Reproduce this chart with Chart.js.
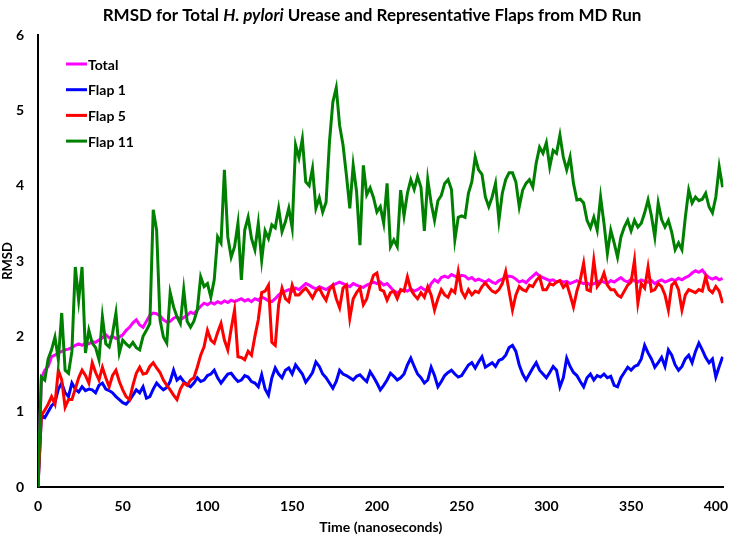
<!DOCTYPE html>
<html>
<head>
<meta charset="utf-8">
<script src="https://cdn.jsdelivr.net/npm/chart.js"></script>
<style>
  html, body { margin: 0; padding: 0; background: #fff; }
  #wrap { width: 739px; height: 536px; }
</style>
</head>
<body>
<div id="wrap"><canvas id="rmsdChart"></canvas></div>
<script>
const times = Array.from({ length: 203 }, (_, i) => i * 2);

const total = [
  0, 1.45, 1.55, 1.6, 1.73, 1.75, 1.78, 1.8, 1.82, 1.83,
  1.85, 1.88, 1.9, 1.88, 1.91, 1.9, 1.93, 1.92, 1.95, 1.98,
  2.02, 1.98, 2.0, 1.97, 1.99, 2.02, 2.08, 2.12, 2.18, 2.22,
  2.15, 2.12, 2.2, 2.28, 2.31, 2.3, 2.27, 2.22, 2.19, 2.2,
  2.24, 2.26, 2.22, 2.25, 2.28, 2.32, 2.3, 2.35, 2.4, 2.44,
  2.42, 2.45, 2.43, 2.46, 2.44, 2.47, 2.45, 2.48, 2.46, 2.48,
  2.5, 2.47, 2.49, 2.46, 2.5, 2.48, 2.52, 2.5, 2.47, 2.46,
  2.5, 2.55, 2.58, 2.6, 2.62, 2.6, 2.64, 2.62, 2.66, 2.7,
  2.68, 2.65, 2.63, 2.66, 2.64, 2.62, 2.65, 2.68, 2.7, 2.72,
  2.7, 2.68, 2.66, 2.7, 2.68, 2.66, 2.65, 2.68, 2.7, 2.72,
  2.7, 2.72, 2.68, 2.7, 2.65, 2.6, 2.58, 2.6, 2.62, 2.6,
  2.63, 2.6, 2.62, 2.65, 2.62, 2.6, 2.7, 2.75, 2.72, 2.78,
  2.8, 2.78, 2.82, 2.8, 2.78, 2.81, 2.8, 2.76, 2.78, 2.74,
  2.76, 2.74, 2.72, 2.75, 2.72, 2.7, 2.74, 2.76, 2.78, 2.8,
  2.79, 2.76, 2.72, 2.74, 2.71, 2.76, 2.8, 2.84, 2.8, 2.78,
  2.76, 2.74, 2.75, 2.72, 2.74, 2.72, 2.73, 2.7, 2.72, 2.74,
  2.72, 2.7, 2.71, 2.68, 2.7, 2.72, 2.74, 2.72, 2.7, 2.74,
  2.72, 2.75, 2.78, 2.74, 2.72, 2.76, 2.74, 2.72, 2.75, 2.73,
  2.72, 2.74, 2.7, 2.73, 2.75, 2.72, 2.74, 2.76, 2.74, 2.77,
  2.75, 2.78, 2.8, 2.84, 2.87, 2.85, 2.88, 2.82, 2.78, 2.76,
  2.78, 2.75, 2.77
];

const flap1 = [
  0, 0.95, 0.92, 1.0, 1.08, 1.12, 1.3, 1.38, 1.25, 1.2,
  1.38, 1.3, 1.26, 1.33, 1.28, 1.3, 1.29, 1.25, 1.35, 1.38,
  1.3, 1.28, 1.25, 1.2, 1.16, 1.12, 1.1, 1.15, 1.22, 1.29,
  1.25, 1.33, 1.18, 1.2, 1.3, 1.38, 1.33, 1.29, 1.32, 1.4,
  1.55, 1.42, 1.46, 1.4, 1.36, 1.33, 1.38, 1.45, 1.4, 1.42,
  1.48, 1.5, 1.55, 1.45, 1.38, 1.44, 1.5, 1.51, 1.45, 1.4,
  1.42, 1.48, 1.46, 1.4, 1.38, 1.33, 1.49, 1.3, 1.22, 1.45,
  1.58, 1.5, 1.45, 1.55, 1.58, 1.5, 1.62, 1.56, 1.5, 1.39,
  1.45, 1.52, 1.66, 1.6, 1.5, 1.45, 1.38, 1.31, 1.4, 1.55,
  1.5, 1.48, 1.45, 1.42, 1.47, 1.49, 1.44, 1.4, 1.53, 1.46,
  1.38, 1.29, 1.35, 1.42, 1.51, 1.47, 1.42, 1.45, 1.5, 1.62,
  1.71, 1.6, 1.5, 1.45, 1.38, 1.42, 1.59, 1.48, 1.33, 1.4,
  1.48, 1.52, 1.55, 1.5, 1.46, 1.48, 1.55, 1.62, 1.65, 1.58,
  1.66, 1.73, 1.59, 1.62, 1.65, 1.6, 1.68, 1.7, 1.75, 1.85,
  1.88, 1.8, 1.62, 1.5, 1.42, 1.5, 1.58, 1.65, 1.55, 1.5,
  1.45, 1.52, 1.6, 1.55, 1.33, 1.45, 1.71, 1.6, 1.52, 1.48,
  1.4, 1.33, 1.45, 1.5, 1.42, 1.48, 1.46, 1.5, 1.45, 1.47,
  1.35, 1.33, 1.45, 1.52, 1.59, 1.55, 1.6, 1.62, 1.7, 1.88,
  1.78, 1.7, 1.59, 1.65, 1.72, 1.6, 1.82, 1.75, 1.62, 1.55,
  1.6, 1.7, 1.75, 1.65, 1.8, 1.91, 1.82, 1.72, 1.65, 1.7,
  1.46, 1.6, 1.73
];

const flap5 = [
  0, 0.95, 1.02, 1.1, 1.2, 1.1, 1.55, 1.42, 1.06, 1.16,
  1.16, 1.3, 1.45, 1.55, 1.48, 1.38, 1.65, 1.52, 1.42, 1.59,
  1.45, 1.33, 1.48, 1.55, 1.4, 1.29, 1.2, 1.16, 1.35, 1.51,
  1.59, 1.5, 1.51, 1.6, 1.65, 1.58, 1.52, 1.42, 1.35, 1.29,
  1.22, 1.16, 1.3, 1.38, 1.35, 1.42, 1.45, 1.59, 1.75, 1.86,
  2.08, 1.95, 1.91, 2.05, 2.17, 1.95, 1.82, 2.1, 2.35, 1.73,
  1.72, 1.69, 1.8, 1.75, 2.0, 2.22, 2.58, 2.6, 2.68, 1.92,
  1.88, 2.42, 2.64, 2.5, 2.46, 2.68, 2.55, 2.55, 2.6, 2.64,
  2.58, 2.51, 2.6, 2.64, 2.55, 2.48, 2.62, 2.68, 2.5, 2.38,
  2.64, 2.68, 2.24, 2.5, 2.58, 2.64, 2.42, 2.5, 2.68, 2.81,
  2.84, 2.62, 2.6, 2.48, 2.58, 2.6, 2.5, 2.62, 2.6, 2.79,
  2.62, 2.55, 2.5, 2.58, 2.52, 2.66, 2.55, 2.35, 2.5, 2.62,
  2.55, 2.52, 2.62, 2.58, 2.86, 2.6, 2.52, 2.62, 2.55, 2.6,
  2.58, 2.66, 2.71, 2.65, 2.6, 2.58, 2.62, 2.7, 2.86, 2.6,
  2.35, 2.55, 2.66, 2.62, 2.6, 2.68, 2.66, 2.74, 2.79, 2.62,
  2.62, 2.7, 2.68, 2.72, 2.74, 2.65, 2.7, 2.55, 2.39, 2.6,
  2.75, 2.97, 2.62, 2.6, 3.01, 2.66, 2.72, 2.84, 2.68, 2.62,
  2.62, 2.55, 2.52, 2.6, 2.68, 2.72, 3.01, 2.44, 2.7, 2.64,
  2.92, 2.6, 2.62, 2.7, 2.66, 2.55, 2.35, 2.68, 2.72, 2.62,
  2.35, 2.55, 2.62, 2.6, 2.58, 2.62, 2.6, 2.79, 2.62, 2.58,
  2.66, 2.6, 2.44
];

const flap11 = [
  0, 1.46, 1.42, 1.7, 1.82, 1.99, 1.69, 2.31, 1.55, 1.51,
  1.8, 2.92, 2.48, 2.92, 1.78, 2.08, 1.91, 1.85, 1.69, 2.26,
  1.9, 1.86, 2.04, 2.31, 1.78, 1.95, 1.9, 1.86, 1.92, 1.85,
  1.82, 2.0, 2.08, 2.17, 3.68, 3.41, 2.22, 1.99, 1.91, 2.58,
  2.39, 2.26, 2.17, 2.62, 2.2, 2.12, 2.2, 2.35, 2.79, 2.66,
  2.7, 2.52, 2.75, 3.32, 3.24, 4.21, 3.32, 3.05, 3.19, 3.5,
  2.75, 3.41, 3.58, 3.3, 3.15, 3.5, 3.01, 3.4, 3.3, 3.48,
  3.44, 3.7, 3.39, 3.52, 3.7, 3.44, 4.54, 4.37, 4.62, 4.05,
  4.0, 4.23, 3.7, 3.84, 3.65, 3.78, 4.58, 5.11, 5.3, 4.8,
  4.54, 4.14, 3.7, 4.27, 3.92, 3.21, 4.27, 3.88, 3.97, 3.84,
  3.65, 3.72, 3.5, 4.03, 3.19, 3.28, 3.19, 3.94, 3.6, 3.9,
  4.08, 3.95, 4.12, 3.98, 3.4, 4.08, 3.77, 3.54, 3.8, 3.87,
  4.03, 4.08, 3.95, 3.28, 3.58, 3.6, 3.58, 3.9, 4.05, 4.38,
  4.21, 4.15, 3.85, 3.72, 3.85, 4.03, 3.54, 3.9, 4.08, 4.17,
  4.17, 4.05, 3.72, 3.94, 4.03, 4.08, 3.98, 4.3, 4.51, 4.43,
  4.57, 4.25, 4.47, 4.43, 4.67, 4.38, 4.21, 4.38, 4.03, 3.81,
  3.82, 3.77, 3.54, 3.44, 3.58, 3.41, 3.85, 3.5, 3.1, 3.41,
  3.24, 3.05, 3.32, 3.45, 3.54, 3.4, 3.54, 3.45, 3.5, 3.64,
  3.81, 3.6, 3.32, 3.77, 3.55, 3.45, 3.54, 3.38, 3.15, 3.24,
  3.15, 3.58, 3.94, 3.77, 3.85, 3.8, 3.82, 3.9, 3.72, 3.64,
  3.85, 4.25, 3.98
];

const seriesNames = ['Total', 'Flap 1', 'Flap 5', 'Flap 11'];
const seriesColors = ['#ff00ff', '#0000ff', '#ff0000', '#008000'];
const yTicks = [0, 1, 2, 3, 4, 5, 6];
const xTicks = [0, 50, 100, 150, 200, 250, 300, 350, 400];

const FONT = 'Lato, "Open Sans", sans-serif';

function toPoints(vals) {
  return vals.map((v, i) => ({ x: times[i], y: v }));
}

// title with italic species name, drawn in pieces
const titlePlugin = {
  id: 'mixedTitle',
  afterDraw(chart) {
    const ctx = chart.ctx;
    const parts = [
      ['bold', 'RMSD for Total '],
      ['italic bold', 'H. pylori'],
      ['bold', ' Urease and Representative Flaps from MD Run']
    ];
    ctx.save();
    ctx.fillStyle = '#000';
    ctx.textBaseline = 'middle';
    let w = 0;
    parts.forEach(([st, t]) => { ctx.font = `${st} 17px ${FONT}`; w += ctx.measureText(t).width; });
    let x = 372 - w / 2;
    parts.forEach(([st, t]) => {
      ctx.font = `${st} 17px ${FONT}`;
      ctx.fillText(t, x, 16);
      x += ctx.measureText(t).width;
    });
    ctx.restore();
  }
};

// legend sits inside the plot, top left
const insideLegend = {
  id: 'insideLegend',
  afterDraw(chart) {
    const ctx = chart.ctx;
    ctx.save();
    ctx.font = `bold 14px ${FONT}`;
    ctx.textBaseline = 'middle';
    chart.data.datasets.forEach((ds, i) => {
      const y = 64 + i * 25.7;
      ctx.strokeStyle = ds.borderColor;
      ctx.lineWidth = 3;
      ctx.beginPath();
      ctx.moveTo(66, y);
      ctx.lineTo(87, y);
      ctx.stroke();
      ctx.fillStyle = '#000';
      ctx.fillText(ds.label, 88, y + 1);
    });
    ctx.restore();
  }
};

const allSeries = [total, flap1, flap5, flap11];

new Chart(document.getElementById('rmsdChart'), {
  type: 'line',
  data: {
    datasets: allSeries.map((vals, i) => ({
      label: seriesNames[i],
      data: toPoints(vals),
      borderColor: seriesColors[i],
      backgroundColor: seriesColors[i],
      borderWidth: 3,
      pointRadius: 0,
      tension: 0,
      order: 4 - i
    }))
  },
  options: {
    responsive: true,
    maintainAspectRatio: false,
    animation: false,
    layout: { padding: { top: 35, left: 0, right: 0, bottom: 0 } },
    plugins: { legend: { display: false }, tooltip: { enabled: false } },
    scales: {
      x: {
        type: 'linear',
        min: 0,
        max: 404.5,
        afterBuildTicks: s => { s.ticks = xTicks.map(v => ({ value: v })); },
        afterFit: s => { s.height = 49; },
        border: { color: '#000', width: 2 },
        grid: { display: false, drawTicks: false },
        ticks: { autoSkip: false, maxRotation: 0, padding: 11, color: '#000', font: { family: FONT, weight: 'bold', size: 14 } },
        title: { display: true, text: 'Time (nanoseconds)', color: '#000', padding: { top: 2, bottom: 0 }, font: { family: FONT, weight: 'bold', size: 14 } }
      },
      y: {
        min: 0,
        max: 6,
        afterBuildTicks: s => { s.ticks = yTicks.map(v => ({ value: v })); },
        afterFit: s => { s.width = 38; },
        border: { color: '#000', width: 2 },
        grid: { display: false, drawTicks: false },
        ticks: { padding: 14, color: '#000', font: { family: FONT, weight: 'bold', size: 14 } },
        title: { display: true, text: 'RMSD', color: '#000', padding: 0, font: { family: FONT, weight: 'bold', size: 13 } }
      }
    }
  },
  plugins: [titlePlugin, insideLegend]
});
</script>
</body>
</html>
